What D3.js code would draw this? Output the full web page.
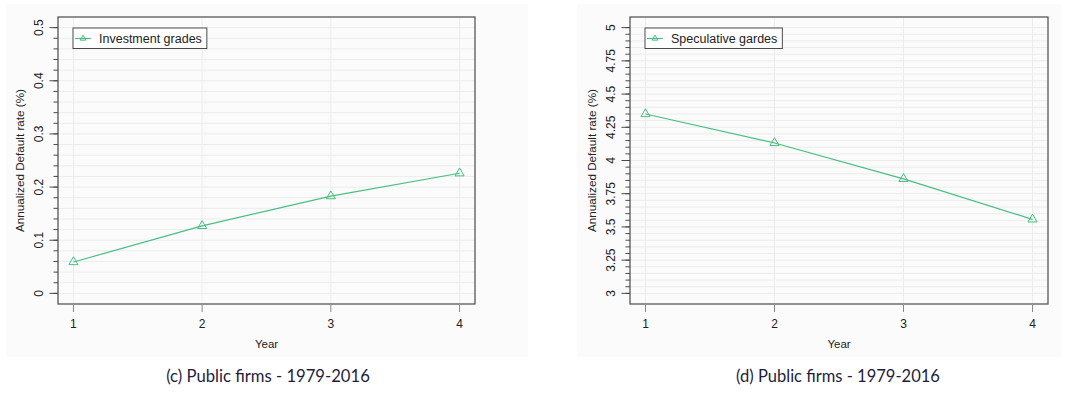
<!DOCTYPE html>
<html><head><meta charset="utf-8">
<script src="https://cdn.jsdelivr.net/npm/d3@7"></script>
<style>body{margin:0;background:#fff}svg{display:block}</style>
</head><body>
<script>
const years = [1, 2, 3, 4];
const investmentValues = [0.059, 0.127, 0.183, 0.226];
const speculativeValues = [4.35, 4.132, 3.862, 3.557];
const investTicks = [0, 0.1, 0.2, 0.3, 0.4, 0.5];
const investTickLabels = ["0", "0.1", "0.2", "0.3", "0.4", "0.5"];
const specTicks = [3, 3.25, 3.5, 3.75, 4, 4.25, 4.5, 4.75, 5];
const specTickLabels = ["3", "3.25", "3.5", "3.75", "4", "4.25", "4.5", "4.75", "5"];
const seriesNames = ["Investment grades", "Speculative gardes"];
const captions = ["(c) Public firms - 1979-2016", "(d) Public firms - 1979-2016"];
const yTitle = "Annualized Default rate (%)";
const xTitle = "Year";

const W = 1066, H = 393;
const svg = d3.select("body").append("svg").attr("width", W).attr("height", H);
const green = "#48bf82";
const frameCol = "#4a4a4a";
const gridCol = "#ececec";
const FONT = "'Liberation Sans', Arial, sans-serif";

const panels = [
  {bg:[6,4,522,353], fx0:58, fx1:475, fy0:17, fy1:304, dom:[-0.02,0.52], minorStep:0.02, major:investTicks, labels:investTickLabels, vals:investmentValues, name:seriesNames[0], cap:captions[0], capX:268},
  {bg:[577,4,484,353], fx0:630, fx1:1048, fy0:17, fy1:304, dom:[2.92,5.08], minorStep:0.05, major:specTicks, labels:specTickLabels, vals:speculativeValues, name:seriesNames[1], cap:captions[1], capX:838}
];

panels.forEach(p => {
  const g = svg.append("g");
  g.append("rect").attr("x",p.bg[0]).attr("y",p.bg[1]).attr("width",p.bg[2]).attr("height",p.bg[3]).attr("fill","#fbfbfb");
  const x = d3.scaleLinear().domain([0.88, 4.12]).range([p.fx0, p.fx1]);
  const y = d3.scaleLinear().domain(p.dom).range([p.fy1, p.fy0]);
  const lo = p.major[0], hi = p.major[p.major.length-1];
  const n = Math.round((hi-lo)/p.minorStep);
  const minor = d3.range(n+1).map(i => lo + i*p.minorStep);
  g.append("g").selectAll("line").data(minor).join("line")
    .attr("x1",p.fx0).attr("x2",p.fx1).attr("y1",d=>y(d)).attr("y2",d=>y(d))
    .attr("stroke",gridCol).attr("stroke-width",1);
  g.append("g").selectAll("line").data(years).join("line")
    .attr("x1",d=>x(d)).attr("x2",d=>x(d)).attr("y1",p.fy0).attr("y2",p.fy1)
    .attr("stroke",gridCol).attr("stroke-width",1);
  g.append("rect").attr("x",p.fx0).attr("y",p.fy0).attr("width",p.fx1-p.fx0).attr("height",p.fy1-p.fy0)
    .attr("fill","none").attr("stroke",frameCol).attr("stroke-width",1.2);
  g.append("g").selectAll("line").data(minor).join("line")
    .attr("x1",p.fx0-4.5).attr("x2",p.fx0).attr("y1",d=>y(d)).attr("y2",d=>y(d))
    .attr("stroke",frameCol).attr("stroke-width",1);
  g.append("g").selectAll("line").data(p.major).join("line")
    .attr("x1",p.fx0-8.5).attr("x2",p.fx0).attr("y1",d=>y(d)).attr("y2",d=>y(d))
    .attr("stroke",frameCol).attr("stroke-width",1);
  g.append("g").selectAll("text").data(p.major).join("text")
    .attr("transform",d=>`translate(${p.fx0-15},${y(d)}) rotate(-90)`)
    .attr("text-anchor","middle").attr("font-family",FONT)
    .attr("font-size",12).attr("fill","#222")
    .text((d,i)=>p.labels[i]);
  g.append("g").selectAll("line").data(years).join("line")
    .attr("x1",d=>x(d)).attr("x2",d=>x(d)).attr("y1",p.fy1+1).attr("y2",p.fy1+8)
    .attr("stroke","#888").attr("stroke-width",1);
  g.append("g").selectAll("text").data(years).join("text")
    .attr("x",d=>x(d)).attr("y",p.fy1+24).attr("text-anchor","middle")
    .attr("font-family",FONT).attr("font-size",12).attr("fill","#222")
    .text(d=>d);
  g.append("text").attr("x",(p.fx0+p.fx1)/2).attr("y",p.fy1+44).attr("text-anchor","middle")
    .attr("font-family",FONT).attr("font-size",11.5).attr("fill","#222").text(xTitle);
  g.append("text").attr("transform",`translate(${p.fx0-34},${(p.fy0+p.fy1)/2}) rotate(-90)`)
    .attr("text-anchor","middle").attr("font-family",FONT)
    .attr("font-size",11.7).attr("fill","#222").text(yTitle);
  const line = d3.line().x((d,i)=>x(years[i])).y(d=>y(d));
  g.append("path").datum(p.vals).attr("d",line).attr("fill","none").attr("stroke",green).attr("stroke-width",1.2);
  const tri = d3.symbol().type(d3.symbolTriangle).size(36);
  g.append("g").selectAll("path").data(p.vals).join("path")
    .attr("transform",(d,i)=>`translate(${x(years[i])},${y(d)})`).attr("d",tri)
    .attr("fill","none").attr("stroke",green).attr("stroke-width",1);
  const lx = p.fx0+15, ly = p.fy0+11;
  const lg = g.append("g");
  const lt = lg.append("text").attr("x",lx+26).attr("y",ly+15).attr("font-family",FONT)
    .attr("font-size",12.5).attr("fill","#222").text(p.name);
  const tw = lt.node().getComputedTextLength();
  lg.insert("rect","text").attr("x",lx).attr("y",ly).attr("width",26+tw+5).attr("height",20.5)
    .attr("fill","#fff").attr("stroke",frameCol).attr("stroke-width",1);
  lg.append("line").attr("x1",lx+2).attr("x2",lx+18).attr("y1",ly+10.5).attr("y2",ly+10.5).attr("stroke",green).attr("stroke-width",1.2);
  lg.append("path").attr("transform",`translate(${lx+10},${ly+10.5})`).attr("d",d3.symbol().type(d3.symbolTriangle).size(14))
    .attr("fill","none").attr("stroke",green).attr("stroke-width",1);
  const ct = svg.append("text").attr("x",p.capX).attr("y",382).attr("text-anchor","middle")
    .attr("font-family","Lato, 'Open Sans', sans-serif").attr("font-size",16).attr("fill","#1f1d3d").text(p.cap);
  const cw = ct.node().getComputedTextLength();
  ct.attr("font-size", 16*204/cw);
});
</script>
</body></html>
